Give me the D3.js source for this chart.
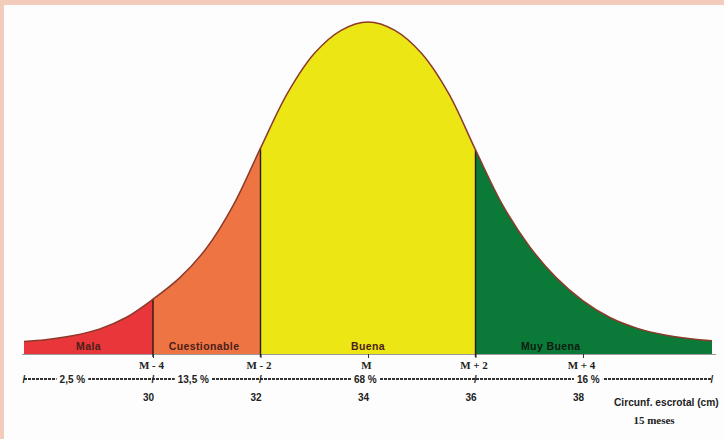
<!DOCTYPE html>
<html>
<head>
<meta charset="utf-8">
<script src="https://cdn.jsdelivr.net/npm/d3@7"></script>
<style>
  html, body { margin: 0; padding: 0; background: #f2cbbb; }
  #chart { width: 724px; height: 439px; }
  .serif { font-family: "Liberation Serif", "DejaVu Serif", serif; font-weight: bold; }
  .sans { font-family: "Liberation Sans", Arial, sans-serif; font-weight: bold; }
</style>
</head>
<body>
<div id="chart"></div>
<script>
// curve: circumference (cm) -> relative frequency (peak = 100)
const curveX = [27.6, 28.0, 28.5, 29.0, 29.5, 30.0, 30.5, 31.0, 31.5, 32.0, 32.5, 33.0, 33.5, 34.0,
                34.5, 35.0, 35.5, 36.0, 36.5, 37.0, 37.5, 38.0, 38.5, 39.0, 39.5, 40.0, 40.4];
const curveY = [3.8, 4.3, 5.5, 7.5, 11, 16.5, 23, 32, 45, 62, 78.5, 90.5, 97.5, 100,
                97.5, 90.5, 78.5, 61.5, 45, 32.5, 23, 16, 11, 7.8, 5.8, 4.6, 4];

// classes
const classNames = ["Mala", "Cuestionable", "Buena", "Muy Buena"];
const classBounds = [27.6, 30, 32, 36, 40.4];
const classColors = ["#e8363b", "#ef7444", "#ebe614", "#0b7a38"];
const classPct = ["2,5 %", "13,5 %", "68 %", "16 %"];
const classPctAt = [28.5, 30.75, 33.95, 38.1];

// axis labels
const tickValues = [30, 32, 34, 36, 38];
const mLabels = ["M - 4", "M - 2", "M", "M + 2", "M + 4"];
const cmLabels = ["30", "32", "34", "36", "38"];

const width = 724, height = 439;
const baseY = 354;

const svg = d3.select("#chart").append("svg")
  .attr("width", width)
  .attr("height", height);

// pink frame + white sheet
svg.append("rect").attr("x", 4).attr("y", 5).attr("width", width - 4).attr("height", height - 5).attr("fill", "#fdfdfd");

const x = d3.scaleLinear().domain([30, 38]).range([153, 583]);
const y = d3.scaleLinear().domain([0, 100]).range([baseY, 22]);

const pts = curveX.map((v, i) => ({ x: v, y: curveY[i] }));

const area = d3.area()
  .x(d => x(d.x))
  .y0(baseY)
  .y1(d => y(d.y))
  .curve(d3.curveCatmullRom.alpha(0.5));

const line = d3.line()
  .x(d => x(d.x))
  .y(d => y(d.y))
  .curve(d3.curveCatmullRom.alpha(0.5));

const defs = svg.append("defs");
classNames.forEach((c, i) => {
  defs.append("clipPath").attr("id", "clip" + i)
    .append("rect")
    .attr("x", x(classBounds[i]))
    .attr("y", 0)
    .attr("width", x(classBounds[i + 1]) - x(classBounds[i]))
    .attr("height", baseY + 1);
  svg.append("path")
    .datum(pts)
    .attr("d", area)
    .attr("fill", classColors[i])
    .attr("clip-path", "url(#clip" + i + ")");
});

// baseline
svg.append("line")
  .attr("x1", 22).attr("x2", 716)
  .attr("y1", baseY + 0.5).attr("y2", baseY + 0.5)
  .attr("stroke", "#9a9a9a").attr("stroke-width", 1);

// dividers
classBounds.slice(1, -1).forEach(b => {
  const v = curveY[curveX.indexOf(b)];
  svg.append("line")
    .attr("x1", x(b)).attr("x2", x(b))
    .attr("y1", y(v)).attr("y2", baseY + 3)
    .attr("stroke", "#2a1a14").attr("stroke-width", 1.4);
});

// curve outline
svg.append("path")
  .datum(pts)
  .attr("d", line)
  .attr("fill", "none")
  .attr("stroke", "#8c3a2a")
  .attr("stroke-width", 1.5);

// class labels
const labelX = [28.8, 30.95, 34, 37.4];
svg.selectAll(".cls").data(classNames).enter()
  .append("text")
  .attr("class", "sans")
  .attr("x", (d, i) => x(labelX[i]))
  .attr("y", baseY - 4)
  .attr("text-anchor", "middle")
  .attr("font-size", 10.5)
  .attr("letter-spacing", 0.4)
  .attr("fill", (d, i) => i == 3 ? "#0d1a10" : "#4a2018")
  .text(d => d);

// M - axis
const axM = svg.append("g")
  .attr("transform", "translate(0," + baseY + ")")
  .call(d3.axisBottom(x).tickValues(tickValues).tickSize(4).tickPadding(3)
    .tickFormat((d, i) => mLabels[i]));
axM.select(".domain").remove();
axM.selectAll(".tick line").attr("stroke", "#333");
axM.selectAll("text").attr("class", "serif").attr("font-size", 11).attr("fill", "#222").attr("dx", -2);

// percentage row
const rowY = 379;
svg.append("line")
  .attr("x1", x(classBounds[0])).attr("x2", x(classBounds[4]))
  .attr("y1", rowY).attr("y2", rowY)
  .attr("stroke", "#333").attr("stroke-width", 1.8)
  .attr("stroke-dasharray", "3,1");
classBounds.forEach(b => {
  svg.append("text")
    .attr("class", "sans")
    .attr("x", x(b)).attr("y", rowY + 4)
    .attr("text-anchor", "middle")
    .attr("font-size", 10).attr("fill", "#222")
    .text("/");
});
classPct.forEach((p, i) => {
  const t = svg.append("text")
    .attr("class", "sans")
    .attr("x", x(classPctAt[i])).attr("y", rowY + 3.5)
    .attr("text-anchor", "middle")
    .attr("font-size", 10).attr("fill", "#222")
    .text(p);
  const bb = t.node().getBBox();
  svg.insert("rect", () => t.node())
    .attr("x", bb.x - 3).attr("y", rowY - 3)
    .attr("width", bb.width + 6).attr("height", 6)
    .attr("fill", "#fdfdfd");
});

// cm axis
const axCm = svg.append("g")
  .attr("transform", "translate(0,394)")
  .call(d3.axisBottom(x).tickValues(tickValues).tickSize(0).tickPadding(0)
    .tickFormat((d, i) => cmLabels[i]));
axCm.select(".domain").remove();
axCm.selectAll("text").attr("class", "sans").attr("font-size", 10).attr("fill", "#222").attr("dx", -5);

svg.append("text")
  .attr("class", "sans")
  .attr("x", 614).attr("y", 406)
  .attr("font-size", 10.2).attr("fill", "#222")
  .text("Circunf. escrotal (cm)");
svg.append("text")
  .attr("class", "serif")
  .attr("x", 654).attr("y", 424)
  .attr("text-anchor", "middle")
  .attr("font-size", 11).attr("fill", "#222")
  .text("15 meses");
</script>
</body>
</html>
